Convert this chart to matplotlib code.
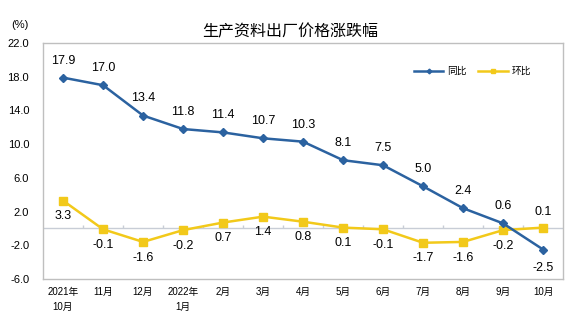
import matplotlib.pyplot as plt
import numpy as np

plt.rcParams['font.family'] = ['Liberation Sans', 'Noto Sans CJK SC']

# data
months = ["2021年\n10月", "11月", "12月", "2022年\n1月", "2月", "3月", "4月",
          "5月", "6月", "7月", "8月", "9月", "10月"]
yoy = [17.9, 17.0, 13.4, 11.8, 11.4, 10.7, 10.3, 8.1, 7.5, 5.0, 2.4, 0.6, -2.5]
mom = [3.3, -0.1, -1.6, -0.2, 0.7, 1.4, 0.8, 0.1, -0.1, -1.7, -1.6, -0.2, 0.1]
yticks = [-6.0, -2.0, 2.0, 6.0, 10.0, 14.0, 18.0, 22.0]

blue = "#2B62A0"
yellow = "#F2C91A"
grid_gray = "#BFBFBF"

fig = plt.figure(figsize=(5.74, 3.29), dpi=100)
ax = fig.add_axes([0.075, 0.152, 0.906, 0.717])

x = np.arange(len(months))
ax.plot(x, yoy, color=blue, lw=1.8, marker="D", ms=4, label="同比", zorder=4)
ax.plot(x, mom, color=yellow, lw=1.8, marker="s", ms=6, label="环比", zorder=3)

# zero line with category boundary ticks
ax.axhline(0, color="#C8CDD6", lw=1.0, zorder=1)
ax.vlines(x[1:] - 0.5, 0, 0.45, color="#C8CDD6", lw=1.0, zorder=1)

# value labels
for i, v in enumerate(yoy):
    if v < 0:
        ax.annotate(f"{v:.1f}", (i, v), xytext=(0, -9), textcoords="offset points",
                    ha="center", va="top", fontsize=9)
    else:
        ax.annotate(f"{v:.1f}", (i, v), xytext=(0, 8), textcoords="offset points",
                    ha="center", va="bottom", fontsize=9)
for i, v in enumerate(mom):
    if i == len(mom) - 1:
        ax.annotate(f"{v:.1f}", (i, v), xytext=(0, 7), textcoords="offset points",
                    ha="center", va="bottom", fontsize=9)
    else:
        ax.annotate(f"{v:.1f}", (i, v), xytext=(0, -7), textcoords="offset points",
                    ha="center", va="top", fontsize=9)

ax.set_xlim(-0.5, len(months) - 0.5)
ax.set_ylim(-6, 22)
ax.set_yticks(yticks)
ax.set_yticklabels([f"{t:.1f}" for t in yticks], fontsize=8)
ax.set_xticks(x)
ax.set_xticklabels(months, fontsize=7, linespacing=1.6, va="top")
ax.tick_params(axis="both", length=0, pad=6)
ax.tick_params(axis="y", pad=10)
for s in ax.spines.values():
    s.set_color(grid_gray)
    s.set_linewidth(1.0)

fig.text(0.505, 0.905, "生产资料出厂价格涨跌幅", ha="center", va="center", fontsize=11.5)
fig.text(0.035, 0.925, "(%)", ha="center", va="center", fontsize=8)

leg = ax.legend(loc="upper right", bbox_to_anchor=(0.955, 0.94), ncol=2, frameon=False,
                fontsize=7, handlelength=3, columnspacing=1.2, handletextpad=0.4,
                markerscale=0.6)

fig.savefig("out.png", dpi=100)
